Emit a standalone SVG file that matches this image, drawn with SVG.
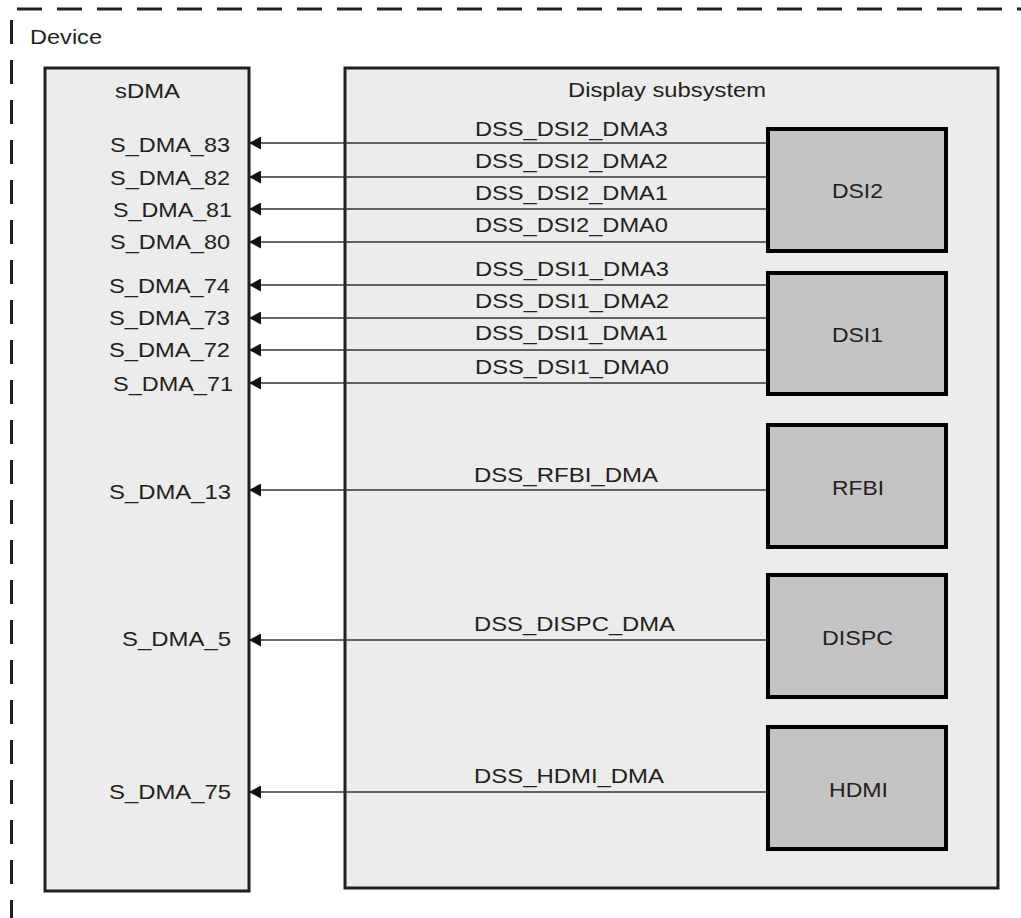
<svg xmlns="http://www.w3.org/2000/svg" width="1021" height="918" viewBox="0 0 1021 918">
<style>
text{font-family:"Liberation Sans",Arial,sans-serif;font-size:21px;fill:#231f20;}
.blk{fill:#ececec;stroke:#231f20;stroke-width:3;}
.sub{fill:#c4c4c4;stroke:#000;stroke-width:4;}
.dash{stroke:#231f20;stroke-width:3;stroke-dasharray:25 15;fill:none;}
.con{stroke:#333;stroke-width:1.5;fill:none;marker-end:url(#ah);}
</style>
<defs>
<marker id="ah" viewBox="0 0 12 13" refX="12" refY="6.5" markerWidth="12" markerHeight="13" markerUnits="userSpaceOnUse" orient="auto">
<path d="M0,0 L12,6.5 L0,13 Z" fill="#111"/>
</marker>
</defs>
<rect width="1021" height="918" fill="#fff"/>
<g id="device">
<line class="dash" x1="17" y1="9" x2="1021" y2="9"/>
<line class="dash" x1="11.5" y1="20" x2="11.5" y2="918" style="stroke-dasharray:24 16"/>
<text x="30" y="44" textLength="72" lengthAdjust="spacingAndGlyphs">Device</text>
</g>
<g id="sdma">
<rect class="blk" x="45" y="68" width="204" height="823"/>
<text x="115" y="98" textLength="65" lengthAdjust="spacingAndGlyphs">sDMA</text>
<text x="110" y="152" textLength="120" lengthAdjust="spacingAndGlyphs">S_DMA_83</text>
<text x="110" y="185" textLength="120" lengthAdjust="spacingAndGlyphs">S_DMA_82</text>
<text x="113" y="217" textLength="119" lengthAdjust="spacingAndGlyphs">S_DMA_81</text>
<text x="110" y="249" textLength="120" lengthAdjust="spacingAndGlyphs">S_DMA_80</text>
<text x="109" y="293" textLength="121" lengthAdjust="spacingAndGlyphs">S_DMA_74</text>
<text x="109" y="325" textLength="121" lengthAdjust="spacingAndGlyphs">S_DMA_73</text>
<text x="109" y="357" textLength="121" lengthAdjust="spacingAndGlyphs">S_DMA_72</text>
<text x="113" y="391" textLength="120" lengthAdjust="spacingAndGlyphs">S_DMA_71</text>
<text x="109" y="499" textLength="122" lengthAdjust="spacingAndGlyphs">S_DMA_13</text>
<text x="122" y="646" textLength="109" lengthAdjust="spacingAndGlyphs">S_DMA_5</text>
<text x="109" y="799" textLength="122" lengthAdjust="spacingAndGlyphs">S_DMA_75</text>
</g>
<g id="dss">
<rect class="blk" x="345" y="68" width="653" height="820"/>
<text x="568" y="97" textLength="198" lengthAdjust="spacingAndGlyphs">Display subsystem</text>
<text x="475" y="136" textLength="193" lengthAdjust="spacingAndGlyphs">DSS_DSI2_DMA3</text>
<text x="475" y="168" textLength="193" lengthAdjust="spacingAndGlyphs">DSS_DSI2_DMA2</text>
<text x="475" y="200" textLength="193" lengthAdjust="spacingAndGlyphs">DSS_DSI2_DMA1</text>
<text x="475" y="232" textLength="193" lengthAdjust="spacingAndGlyphs">DSS_DSI2_DMA0</text>
<text x="475" y="276" textLength="194" lengthAdjust="spacingAndGlyphs">DSS_DSI1_DMA3</text>
<text x="475" y="308" textLength="194" lengthAdjust="spacingAndGlyphs">DSS_DSI1_DMA2</text>
<text x="475" y="340" textLength="193" lengthAdjust="spacingAndGlyphs">DSS_DSI1_DMA1</text>
<text x="475" y="374" textLength="194" lengthAdjust="spacingAndGlyphs">DSS_DSI1_DMA0</text>
<text x="474" y="482" textLength="184" lengthAdjust="spacingAndGlyphs">DSS_RFBI_DMA</text>
<text x="474" y="631" textLength="201" lengthAdjust="spacingAndGlyphs">DSS_DISPC_DMA</text>
<text x="474" y="783" textLength="190" lengthAdjust="spacingAndGlyphs">DSS_HDMI_DMA</text>
</g>
<g id="dsi2">
<rect class="sub" x="768" y="129" width="178" height="122"/>
<text x="832" y="198" textLength="51" lengthAdjust="spacingAndGlyphs">DSI2</text>
</g>
<g id="dsi1">
<rect class="sub" x="768" y="273" width="178" height="121"/>
<text x="832" y="342" textLength="51" lengthAdjust="spacingAndGlyphs">DSI1</text>
</g>
<g id="rfbi">
<rect class="sub" x="768" y="425" width="178" height="122"/>
<text x="832" y="495" textLength="52" lengthAdjust="spacingAndGlyphs">RFBI</text>
</g>
<g id="dispc">
<rect class="sub" x="768" y="575" width="178" height="122"/>
<text x="822" y="645" textLength="71" lengthAdjust="spacingAndGlyphs">DISPC</text>
</g>
<g id="hdmi">
<rect class="sub" x="768" y="727" width="178" height="122"/>
<text x="829" y="797" textLength="59" lengthAdjust="spacingAndGlyphs">HDMI</text>
</g>
<g id="connectors">
<line class="con" x1="766" y1="143" x2="249" y2="143"/>
<line class="con" x1="766" y1="177" x2="249" y2="177"/>
<line class="con" x1="766" y1="209" x2="249" y2="209"/>
<line class="con" x1="766" y1="242" x2="249" y2="242"/>
<line class="con" x1="766" y1="285" x2="249" y2="285"/>
<line class="con" x1="766" y1="318" x2="249" y2="318"/>
<line class="con" x1="766" y1="350" x2="249" y2="350"/>
<line class="con" x1="766" y1="383" x2="249" y2="383"/>
<line class="con" x1="766" y1="490" x2="249" y2="490"/>
<line class="con" x1="766" y1="640" x2="249" y2="640"/>
<line class="con" x1="766" y1="792" x2="249" y2="792"/>
</g>
</svg>
